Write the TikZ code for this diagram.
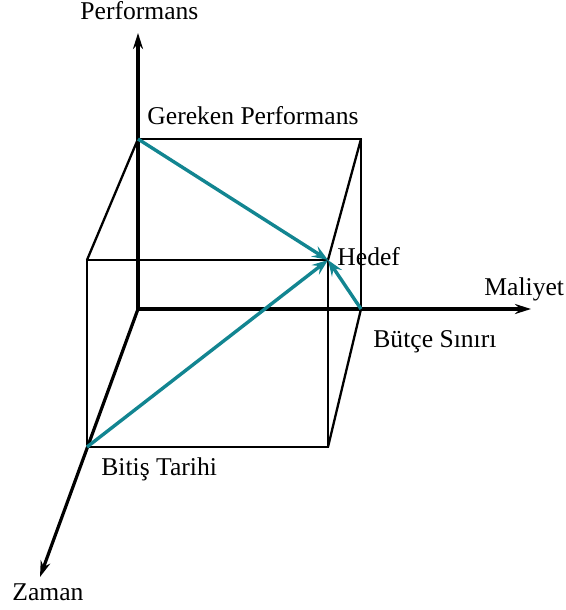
\documentclass[tikz,border=0pt]{standalone}
\usepackage{fontspec}
\setmainfont{Liberation Serif}
\usetikzlibrary{arrows.meta}
\definecolor{tealc}{RGB}{18,133,145}
\begin{document}
\begin{tikzpicture}[x=0.5pt,y=-0.5pt,
  axis/.style={line width=1.6pt,-{Stealth[length=8pt,width=5pt]}},
  edge/.style={line width=1.15pt},
  vec/.style={tealc,line width=1.7pt,-{Stealth[length=8pt,width=6pt,inset=3pt]}},
  lbl/.style={font=\fontsize{12.8}{15}\selectfont,inner sep=0pt,anchor=base west}]
\useasboundingbox (0,0) rectangle (566,610);
% back face corners
\coordinate (O) at (138,309);
\coordinate (GP) at (138,139);
\coordinate (BTR) at (361,139);
\coordinate (BS) at (361,309);
% front face corners
\coordinate (FTL) at (87,260);
\coordinate (H) at (328,260);
\coordinate (FBR) at (328,447);
\coordinate (BT) at (87,447);
% axis ends
\coordinate (Ptip) at (138,33);
\coordinate (Mtip) at (531,309);
\coordinate (Ztip) at (40,577);
% cube edges
\draw[edge] (GP) -- (BTR) -- (BS);
\draw[edge] (FTL) -- (H) -- (FBR) -- (BT) -- cycle;
\draw[edge] (GP) -- (FTL);
\draw[edge] (BTR) -- (H);
\draw[edge] (BS) -- (FBR);
% axes
\draw[axis] (O) -- (Ptip);
\draw[axis] (O) -- (Mtip);
\draw[axis] (O) -- (Ztip);
% vectors
\draw[vec] (GP) -- (H);
\draw[vec] (BT) -- (H);
\draw[vec] (BS) -- (H);
% labels
\node[lbl] (lP) at (80,20) {Performans};
\node[lbl] (lGP) at (147,125) {Gereken Performans};
\node[lbl] (lH) at (337,265) {Hedef};
\node[lbl] (lM) at (484,295) {Maliyet};
\node[lbl] (lBS) at (373,347) {Bütçe Sınırı};
\node[lbl] (lBT) at (101,475) {Bitiş Tarihi};
\node[lbl] (lZ) at (12,600) {Zaman};
\end{tikzpicture}
\end{document}
